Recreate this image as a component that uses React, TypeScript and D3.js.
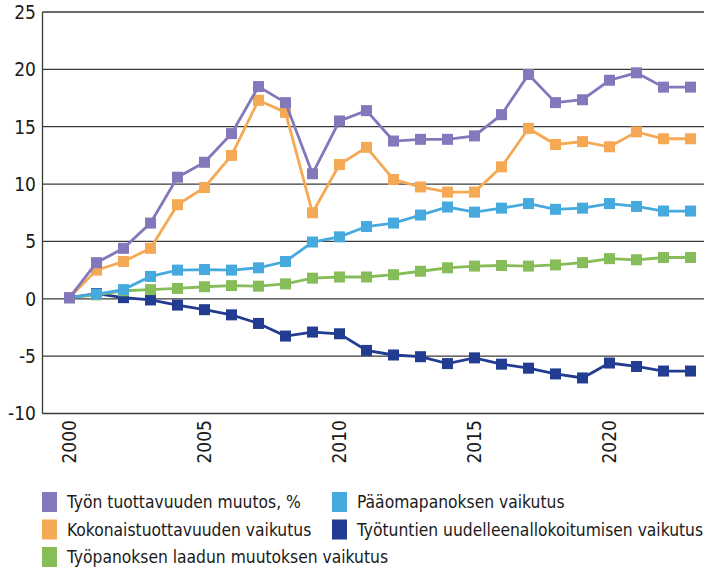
import React, { useEffect, useRef } from 'react';
import { select, scaleLinear, line } from 'd3';

const years = [2000, 2001, 2002, 2003, 2004, 2005, 2006, 2007, 2008, 2009, 2010, 2011, 2012, 2013, 2014, 2015, 2016, 2017, 2018, 2019, 2020, 2021, 2022, 2023];

const tyonTuottavuus = [0.1, 3.15, 4.4, 6.6, 10.6, 11.9, 14.4, 18.5, 17.1, 10.9, 15.5, 16.4, 13.75, 13.9, 13.9, 14.2, 16.05, 19.55, 17.1, 17.35, 19.05, 19.7, 18.45, 18.45];
const kokonaistuottavuus = [0.1, 2.5, 3.25, 4.4, 8.2, 9.7, 12.5, 17.3, 16.25, 7.5, 11.7, 13.2, 10.4, 9.75, 9.3, 9.3, 11.5, 14.85, 13.45, 13.7, 13.25, 14.55, 13.95, 13.95];
const paaomapanos = [0.1, 0.4, 0.8, 1.95, 2.5, 2.55, 2.5, 2.7, 3.25, 4.95, 5.4, 6.3, 6.6, 7.3, 8.0, 7.55, 7.9, 8.3, 7.8, 7.9, 8.3, 8.05, 7.65, 7.65];
const tyopanoksenLaatu = [0.1, 0.35, 0.7, 0.8, 0.9, 1.05, 1.15, 1.1, 1.3, 1.8, 1.9, 1.9, 2.1, 2.4, 2.7, 2.85, 2.9, 2.85, 2.95, 3.15, 3.5, 3.4, 3.6, 3.6];
const tyotunnit = [0.1, 0.45, 0.1, -0.1, -0.55, -0.95, -1.4, -2.15, -3.25, -2.9, -3.05, -4.5, -4.9, -5.05, -5.65, -5.15, -5.7, -6.05, -6.55, -6.9, -5.6, -5.9, -6.3, -6.3];

const yTicks = [-10, -5, 0, 5, 10, 15, 20, 25];
const xTicks = [2000, 2005, 2010, 2015, 2020];

// drawing order: back to front
const series = [
  { name: 'Työtuntien uudelleenallokoitumisen vaikutus', color: '#213c90', values: tyotunnit },
  { name: 'Työpanoksen laadun muutoksen vaikutus', color: '#87bd58', values: tyopanoksenLaatu },
  { name: 'Pääomapanoksen vaikutus', color: '#47aadf', values: paaomapanos },
  { name: 'Kokonaistuottavuuden vaikutus', color: '#f6a954', values: kokonaistuottavuus },
  { name: 'Työn tuottavuuden muutos, %', color: '#8278bb', values: tyonTuottavuus },
];

const legendItems = [
  { name: 'Työn tuottavuuden muutos, %', color: '#8278bb', col: 0, row: 0 },
  { name: 'Kokonaistuottavuuden vaikutus', color: '#f6a954', col: 0, row: 1 },
  { name: 'Työpanoksen laadun muutoksen vaikutus', color: '#87bd58', col: 0, row: 2 },
  { name: 'Pääomapanoksen vaikutus', color: '#47aadf', col: 1, row: 0 },
  { name: 'Työtuntien uudelleenallokoitumisen vaikutus', color: '#213c90', col: 1, row: 1 },
];

const width = 708;
const height = 569;
const font = '"DejaVu Sans Condensed", "DejaVu Sans", sans-serif';

function App() {
  const svgRef = useRef<SVGSVGElement>(null);

  useEffect(() => {
    const svg = select(svgRef.current);
    svg.selectAll('*').remove();

    const left = 42.5;
    const right = 704;
    const top = 12;
    const bottom = 413.5;

    const x = scaleLinear().domain([1999, 2023.5]).range([left, right]);
    const y = scaleLinear().domain([-10, 25]).range([bottom, top]);

    // grid
    svg.append('g')
      .selectAll('line')
      .data(yTicks)
      .join('line')
      .attr('x1', left)
      .attr('x2', right)
      .attr('y1', d => y(d))
      .attr('y2', d => y(d))
      .attr('stroke', '#3a3a3a')
      .attr('stroke-width', 1.3);

    svg.append('line')
      .attr('x1', left).attr('x2', left)
      .attr('y1', top).attr('y2', bottom)
      .attr('stroke', '#3a3a3a')
      .attr('stroke-width', 1.3);

    svg.append('g')
      .selectAll('text')
      .data(yTicks)
      .join('text')
      .attr('x', 36)
      .attr('y', d => y(d))
      .attr('dy', '0.36em')
      .attr('text-anchor', 'end')
      .style('font-family', font)
      .style('font-size', '19px')
      .attr('fill', '#1a1a1a')
      .text(d => d);

    svg.append('g')
      .selectAll('text')
      .data(xTicks)
      .join('text')
      .attr('transform', d => `translate(${x(d)}, 420) rotate(-90)`)
      .attr('dy', '0.36em')
      .attr('text-anchor', 'end')
      .style('font-family', font)
      .style('font-size', '19px')
      .attr('fill', '#1a1a1a')
      .text(d => d);

    const lineGen = line<number>()
      .x((_, i) => x(years[i]))
      .y(d => y(d));

    series.forEach(s => {
      const g = svg.append('g');
      g.append('path')
        .datum(s.values)
        .attr('d', lineGen)
        .attr('fill', 'none')
        .attr('stroke', s.color)
        .attr('stroke-width', 2.8);
      const m = 11;
      g.selectAll('rect')
        .data(s.values)
        .join('rect')
        .attr('x', (_, i) => x(years[i]) - m / 2)
        .attr('y', d => y(d) - m / 2)
        .attr('width', m)
        .attr('height', m)
        .attr('fill', s.color);
    });

    // legend
    const lg = svg.append('g');
    legendItems.forEach(it => {
      const lx = it.col === 0 ? 42 : 332;
      const ly = 502 + it.row * 27.5;
      lg.append('rect')
        .attr('x', lx)
        .attr('y', ly - 10)
        .attr('width', 15)
        .attr('height', 20)
        .attr('fill', it.color);
      lg.append('text')
        .attr('x', lx + 25)
        .attr('y', ly)
        .attr('dy', '0.36em')
        .style('font-family', font)
        .style('font-size', '17.3px')
        .attr('fill', '#1a1a1a')
        .text(it.name);
    });
  }, []);

  return (
    <svg ref={svgRef} width={width} height={height}
      style={{ position: 'absolute', left: 0, top: 0, background: '#fff' }} />
  );
}

export default App;
